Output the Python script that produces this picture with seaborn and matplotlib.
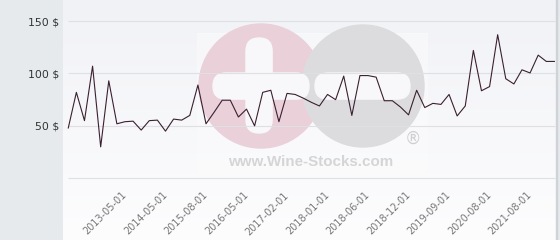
import numpy as np
import pandas as pd
import matplotlib
matplotlib.use("Agg")
import matplotlib.pyplot as plt
from matplotlib.patches import Rectangle, Circle, FancyBboxPatch
import seaborn as sns

# ---- data ----
prices = [48, 82, 55, 107, 30, 93, 52, 54, 54.5, 46,
          55, 55.5, 45, 56.5, 55.5, 60, 89, 52, 63, 74.5,
          74.5, 58.5, 66, 50, 82, 84, 54, 81, 80, 76.5,
          72.5, 69, 80, 75, 97.5, 60, 98, 98, 96.5, 74,
          74, 68, 60.5, 84, 67.5, 71.5, 70.5, 80, 59.5, 69,
          122, 83.5, 87.5, 137, 95, 90, 103.5, 100.5, 117.5, 111.5,
          111.5]
tick_labels = ["2013-05-01", "2014-05-01", "2015-08-01", "2016-05-01",
               "2017-02-01", "2018-01-01", "2018-06-01", "2018-12-01",
               "2019-09-01", "2020-08-01", "2021-08-01"]
y_ticks = [50, 100, 150]

df = pd.DataFrame({"idx": np.arange(len(prices)), "price": prices})

W, H = 560, 240
fig = plt.figure(figsize=(W / 100, H / 100), dpi=100)
fig.patch.set_facecolor("#e6eaed")

# ---- background / watermark in pixel coordinates ----
bg = fig.add_axes([0, 0, 1, 1])
bg.set_xlim(0, W)
bg.set_ylim(H, 0)
bg.axis("off")
grad = np.linspace(0, 1, 256).reshape(-1, 1)
cmap = matplotlib.colors.LinearSegmentedColormap.from_list("g", ["#f1f2f6", "#fdfdfe"])
bg.imshow(grad, extent=(63, 556, H, 0), cmap=cmap, aspect="auto", zorder=0)
bg.add_patch(Rectangle((555.5, 0), 1.2, H, color="#cfd3d8", zorder=1))
bg.add_patch(Rectangle((197, 33), 230, 140, color="#fbfbfc", alpha=0.5, zorder=1))
bg.add_patch(Circle((261, 86), 62, color="#ead0d8", zorder=2))
bg.add_patch(Circle((363, 86), 61, color="#dcdcde", zorder=3))
bg.add_patch(FancyBboxPatch((246 + 13, 38 + 13), 0.1, 95 - 26,
                            boxstyle="round,pad=13", color="#f8f8fa", zorder=4))
bg.add_patch(FancyBboxPatch((213 + 13, 73 + 13), 96 - 26, 0.1,
                            boxstyle="round,pad=13", color="#f8f8fa", zorder=4))
bg.add_patch(FancyBboxPatch((315 + 13, 73 + 13), 95 - 26, 0.1,
                            boxstyle="round,pad=13", color="#f8f8fa", zorder=4))
bg.text(311, 162, "www.Wine-Stocks.com", ha="center", va="center",
        fontsize=10.9, fontweight="bold", family="Liberation Sans",
        color="#d5d5d7", zorder=5)
bg.text(413, 139, "®", ha="center", va="center", fontsize=12,
        family="DejaVu Sans", color="#cfcfd2", zorder=5)

# ---- main chart ----
ax = fig.add_axes([63 / W, (H - 178.3) / H, (556 - 63) / W, 178.3 / H])
ax.patch.set_alpha(0)
sns.lineplot(data=df, x="idx", y="price", ax=ax, color="#3a2030",
             linewidth=0.8, zorder=5)
ax.set_xlim(-0.65, 60.2)
ax.set_ylim(0, 170.1)
ax.hlines([0] + y_ticks, 0, 60.1, colors="#dfe0e4", linewidth=0.8,
          zorder=1, clip_on=False)
for s in ax.spines.values():
    s.set_visible(False)
ax.set_xlabel("")
ax.set_ylabel("")
ax.set_yticks(y_ticks)
ax.set_yticklabels([f"{v} $" for v in y_ticks], fontsize=7.8, color="#333333")
ax.tick_params(axis="y", length=0, pad=3)
ax.set_xticks(np.arange(7, 7 + 5 * len(tick_labels), 5))
ax.set_xticklabels(tick_labels, rotation=45, ha="right", va="center",
                   rotation_mode="anchor", fontsize=7, color="#777777")
ax.tick_params(axis="x", length=0, pad=11)

fig.savefig("out.png", dpi=100, facecolor=fig.get_facecolor())
